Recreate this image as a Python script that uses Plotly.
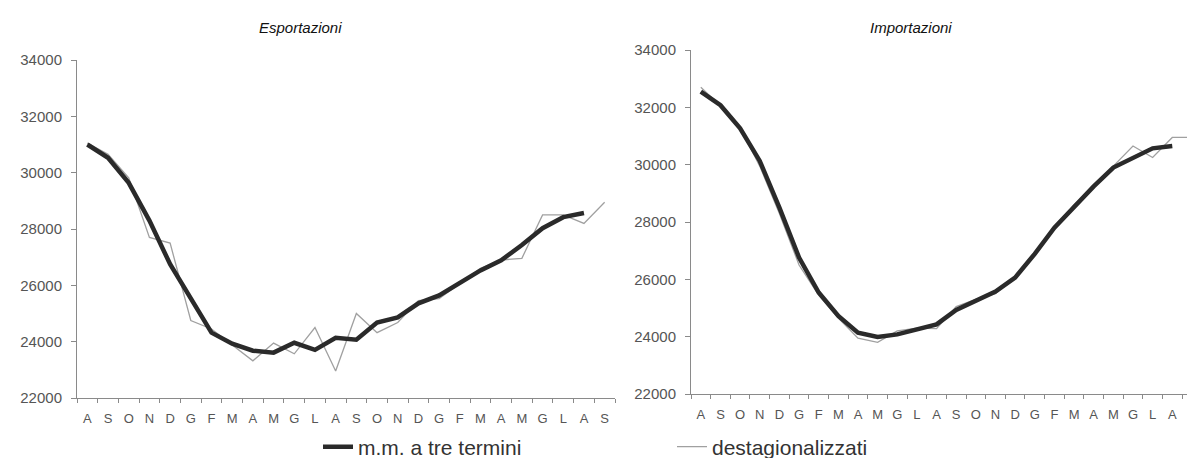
import plotly.graph_objects as go

months = ["A", "S", "O", "N", "D", "G", "F", "M", "A", "M", "G", "L", "A",
          "S", "O", "N", "D", "G", "F", "M", "A", "M", "G", "L", "A", "S"]

# Esportazioni
exp_destag = [31050, 30650, 29820, 27700, 27500, 24750, 24450, 23900, 23320,
              23950, 23570, 24500, 22960, 25000, 24320, 24680, 25460, 25530,
              26050, 26600, 26900, 26960, 28500, 28500, 28200, 28950]
exp_mm3 = [31000, 30530, 29640, 28300, 26750, 25500, 24320, 23930, 23680,
           23610, 23960, 23710, 24140, 24070, 24680, 24860, 25360, 25640,
           26100, 26530, 26890, 27430, 28030, 28420, 28570]

# Importazioni
imp_destag = [32700, 32050, 31300, 29950, 28300, 26500, 25450, 24650, 23950,
              23800, 24200, 24300, 24280, 25050, 25300, 25500, 26100, 26950,
              27750, 28600, 29200, 29950, 30650, 30250, 30950, 30950]
imp_mm3 = [32550, 32075, 31270, 30130, 28500, 26760, 25540, 24720, 24140,
           23990, 24080, 24260, 24430, 24930, 25250, 25570, 26060, 26890,
           27800, 28530, 29240, 29900, 30250, 30570, 30650]

y_ticks = [22000, 24000, 26000, 28000, 30000, 32000, 34000]

# figure sized to fit inside the page's default 8px body margin
W, H = 1179, 450
OFF = 8  # page offset of the figure inside the window
FONT = "Liberation Sans, Arial, sans-serif"
DARK = "#2a2a2a"
GREY = "#a0a0a0"
AX = "#8a8a8a"


def px(x):
    return (x - OFF) / W


def py(y):
    return (H - (y - OFF)) / H


fig = go.Figure()


def xs(n):
    return list(range(n))


# left panel
fig.add_trace(go.Scatter(x=xs(len(exp_destag)), y=exp_destag, mode="lines",
                         line=dict(color=GREY, width=1.3), name="destagionalizzati",
                         legendrank=2, xaxis="x", yaxis="y"))
fig.add_trace(go.Scatter(x=xs(len(exp_mm3)), y=exp_mm3, mode="lines",
                         line=dict(color=DARK, width=4.5), name="m.m. a tre termini",
                         legendrank=1, xaxis="x", yaxis="y"))
# right panel
fig.add_trace(go.Scatter(x=xs(len(imp_destag)), y=imp_destag, mode="lines",
                         line=dict(color=GREY, width=1.3), showlegend=False,
                         xaxis="x2", yaxis="y2"))
fig.add_trace(go.Scatter(x=xs(len(imp_mm3)), y=imp_mm3, mode="lines",
                         line=dict(color=DARK, width=4.5), showlegend=False,
                         xaxis="x2", yaxis="y2"))


def xaxis(dom, rng, anchor):
    return dict(domain=dom, range=rng, tickmode="array", anchor=anchor,
                tickvals=list(range(len(months))), ticktext=months,
                ticks="", showline=True, linecolor=AX, linewidth=1,
                showgrid=False, zeroline=False, ticklabelstandoff=8,
                automargin=False,
                tickfont=dict(family=FONT, size=13, color="#555"),
                minor=dict(tickvals=[i - 0.5 for i in range(len(months) + 1)],
                           ticks="outside", ticklen=4, tickcolor=AX,
                           showgrid=False))


def yaxis(dom, anchor):
    return dict(domain=dom, range=[22000, 34000], tickmode="array",
                tickvals=y_ticks, tickformat="d", ticks="outside", ticklen=5,
                tickcolor=AX, showline=True, linecolor=AX, linewidth=1,
                showgrid=False, zeroline=False, anchor=anchor, automargin=False,
                ticklabelstandoff=6,
                tickfont=dict(family=FONT, size=15, color="#555"))


fig.update_layout(
    width=W, height=H,
    margin=dict(l=0, r=0, t=0, b=0, autoexpand=False),
    paper_bgcolor="white", plot_bgcolor="white",
    xaxis=xaxis([px(77), px(615)], [-0.5, 25.5], "y"),
    yaxis=yaxis([py(398), py(60)], "x"),
    xaxis2=xaxis([px(691), 1.0], [-0.5, 24.75], "y2"),
    yaxis2=yaxis([py(394), py(50)], "x2"),
    showlegend=True,
    legend=dict(orientation="h", x=px(318), xanchor="left", y=py(447),
                yanchor="middle", entrywidth=309, entrywidthmode="pixels",
                font=dict(family=FONT, size=21, color="#333"),
                bgcolor="rgba(0,0,0,0)"),
    annotations=[
        dict(text="<i>Esportazioni</i>", x=px(300), y=py(27), xref="paper",
             yref="paper", showarrow=False, xanchor="center", yanchor="middle",
             font=dict(family=FONT, size=15, color="#111")),
        dict(text="<i>Importazioni</i>", x=px(911), y=py(27), xref="paper",
             yref="paper", showarrow=False, xanchor="center", yanchor="middle",
             font=dict(family=FONT, size=15, color="#111")),
    ],
)

fig.write_html("out.html")
